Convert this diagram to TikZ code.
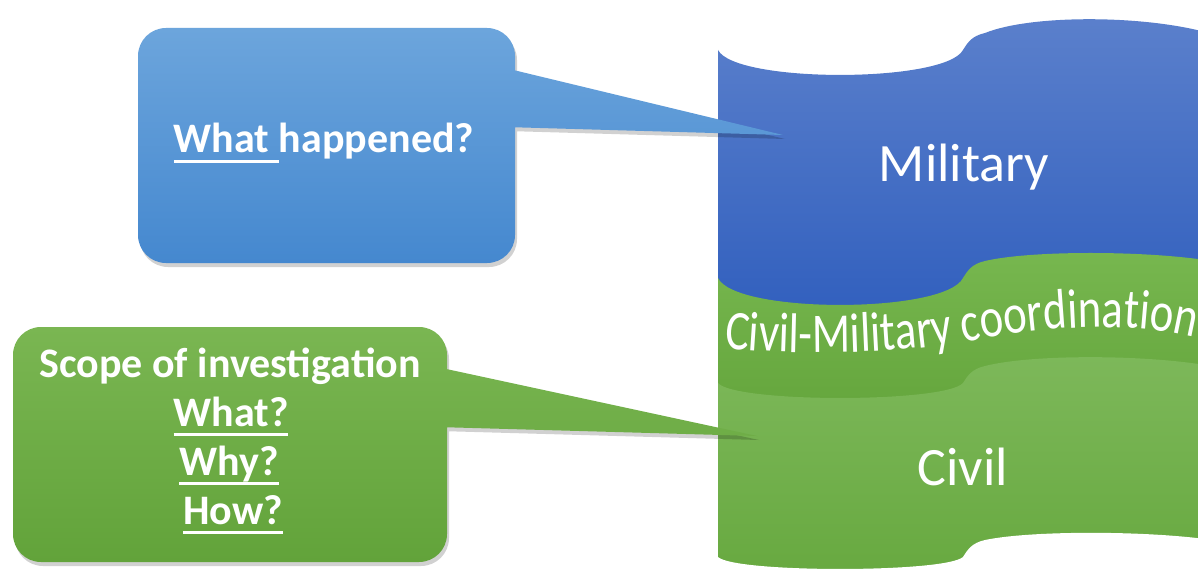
\documentclass[tikz,border=0pt]{standalone}
\usepackage{fontspec}
\setmainfont{Carlito}
\newfontfamily\bandfont[FakeStretch=0.8]{Carlito}
\usetikzlibrary{decorations.text}
\definecolor{callblueA}{HTML}{6CA5DC}
\definecolor{callblueB}{HTML}{4588CF}
\definecolor{callgreenA}{HTML}{7AB652}
\definecolor{callgreenB}{HTML}{62A33A}
\definecolor{milA}{HTML}{5B80CC}
\definecolor{milB}{HTML}{3260BE}
\definecolor{cmA}{HTML}{77B74F}
\definecolor{cmB}{HTML}{66A73E}
\definecolor{civA}{HTML}{7DB85A}
\definecolor{civB}{HTML}{66A83E}
\tikzset{calltext/.style={text=white, font=\fontsize{42}{48}\selectfont\bfseries, anchor=base, inner sep=0pt},
 bandtext/.style={text=white, font=\fontsize{54}{60}\selectfont, anchor=base, inner sep=0pt},
 callshadow/.style={fill=black, opacity=.18, shift={(2,4)}},
 }
% underline set low, as in the slide
\newcommand\ulword[1]{\setbox0\hbox{#1}\rlap{\rule[-10pt]{\wd0}{2.6pt}}\box0}
% one wavy edge of the banner: left level, depth of the dip, height of the bump
\newcommand\wave[3]{(718,#1) .. controls (735,#1+1.33*#2) and (945,#1+1.33*#2) .. (963,#1)
  .. controls (968,#1-8) and (972,#1-14) .. (985,#1-17)
  .. controls (1030,#1-1.1*#3) and (1140,#1-1.1*#3) .. (1205,#1-18)}

\begin{document}
\begin{tikzpicture}[x=1pt,y=-1pt]
    \path[use as bounding box, fill=white] (0,0) rectangle (1198,572);
    \clip (0,0) rectangle (1198,572);

    % banner, painted from the top layer down
    \shade[top color=milA, bottom color=milB] \wave{50}{25}{32} -- (1205,310) -- (718,310) -- cycle;
    \shade[top color=cmA, bottom color=cmB] \wave{278}{27}{25} -- (1205,400) -- (718,400) -- cycle;
    \shade[top color=civA, bottom color=civB] \wave{383}{15}{26} -- (1205,590) -- (718,590) -- cycle;
    \fill[white] \wave{557}{12}{24} -- (1205,600) -- (710,600) -- (710,557) -- cycle;

    \node[bandtext] (military) at (964,182) {Military};
    \node[bandtext] (civil) at (963,485) {Civil};
    \path[decorate, decoration={text effects along path, text={Civil-Military coordination},
        text effects/.cd, text along path,
        characters={text=white, font=\bandfont\fontsize{56}{56}\selectfont}}]
        (724,348) .. controls (800,356) and (900,354) .. (975,340)
        .. controls (1030,329) and (1130,318) .. (1205,340);

    % callouts
    \fill[callshadow, rounded corners=28] (138,28) rectangle (515,263) [sharp corners] (505,127) -- (783,135) -- (505,68) -- cycle;
    \shade[top color=callblueA, bottom color=callblueB, rounded corners=28] (138,28) rectangle (515,263)
        [sharp corners] (505,127) -- (783,135) -- (505,68) -- cycle;
    \fill[callshadow, rounded corners=28] (13,327) rectangle (447,562) [sharp corners] (437,427) -- (757,436) -- (437,367) -- cycle;
    \shade[top color=callgreenA, bottom color=callgreenB, rounded corners=28] (13,327) rectangle (447,562)
        [sharp corners] (437,427) -- (757,436) -- (437,367) -- cycle;

    \node[calltext] (happened) at (324,153) {\ulword{What\ }happened?};
    \node[calltext] (scope) at (230,377) {Scope of investigation};
    \node[calltext] (what) at (231,426) {\ulword{What?}};
    \node[calltext] (why) at (229,475) {\ulword{Why?}};
    \node[calltext] (how) at (233,524) {\ulword{How?}};
\end{tikzpicture}
\end{document}
